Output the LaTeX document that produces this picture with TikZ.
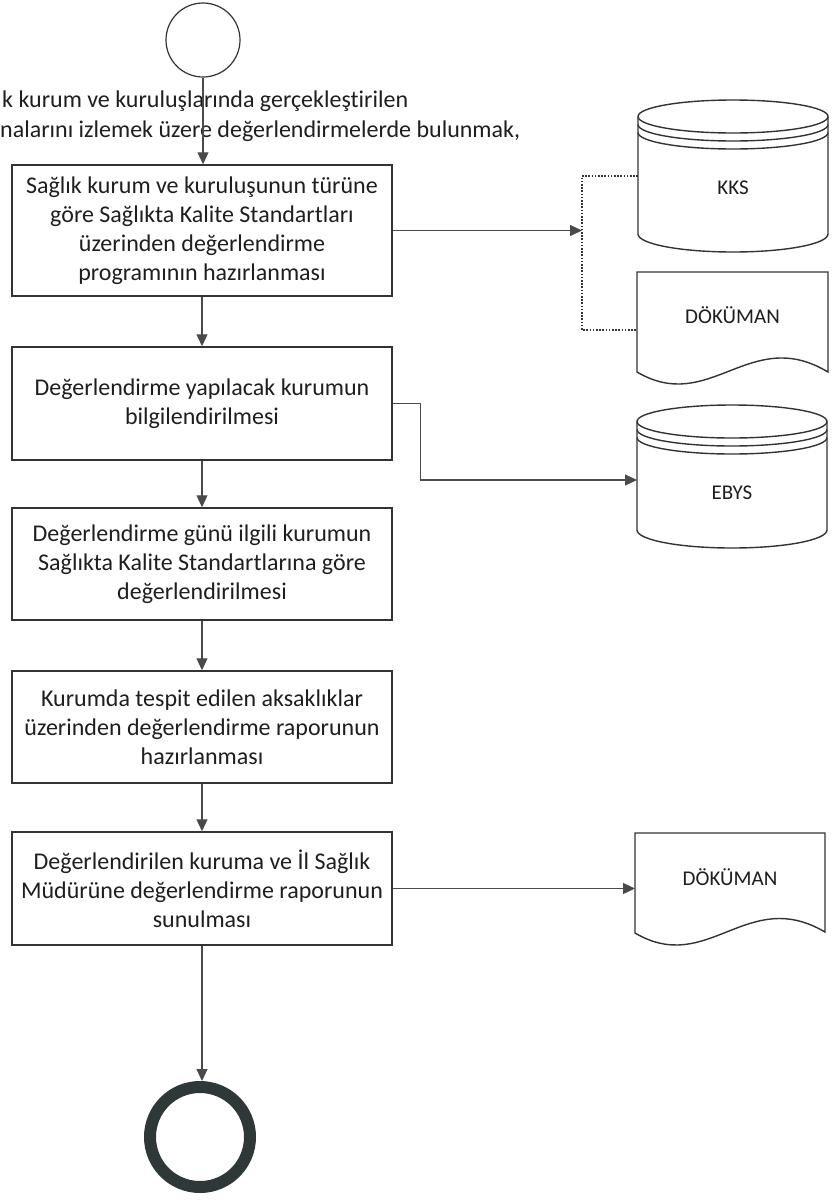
\documentclass[tikz,border=0pt]{standalone}
\usepackage{fontspec}
\setmainfont{Carlito}[Ligatures=NoCommon]
\usetikzlibrary{arrows.meta}
\definecolor{ln}{HTML}{333333}
\definecolor{cn}{HTML}{4A4A4A}
\definecolor{tx}{HTML}{1E1E1E}
\definecolor{ring}{HTML}{2E3838}
\begin{document}
\begin{tikzpicture}[x=1pt,y=-1pt,
  box/.style={draw=ln,line width=1.5pt,minimum width=380pt,align=center,
    font=\fontsize{24}{29}\selectfont,text=tx,inner sep=0pt},
  conn/.style={draw=cn,line width=1.2pt},
  arr/.style={conn,-{Triangle[length=12pt,width=11pt]}},
  dotc/.style={draw=ln,line width=1.6pt,dash pattern=on 1.6pt off 1.6pt},
  shp/.style={draw=ln,line width=1.4pt},
  area/.style={inner sep=0pt,outer sep=0pt},
  lbl/.style={font=\fontsize{21}{25}\selectfont,text=tx},
  toptext/.style={anchor=base west,inner sep=0pt,font=\fontsize{24}{29}\selectfont,text=tx}]
\useasboundingbox (0,0) rectangle (834,1200);

% top text
\node[toptext] (t1) at (2,107) {k kurum ve kuruluşlarında gerçekleştirilen};
\node[toptext] (t2) at (0,137) {nalarını izlemek üzere değerlendirmelerde bulunmak,};

% start / end
\node[circle,draw=ln,line width=1.2pt,minimum size=74pt,inner sep=0pt] (start) at (203,40) {};
\node[circle,draw=ring,line width=12pt,minimum size=100pt,inner sep=0pt] (end) at (200,1137) {};

% process boxes
\node[box,minimum height=131pt] (b1) at (202,230.5) {Sağlık kurum ve kuruluşunun türüne\\göre Sağlıkta Kalite Standartları\\üzerinden değerlendirme\\programının hazırlanması};
\node[box,minimum height=113pt] (b2) at (202,403.5) {Değerlendirme yapılacak kurumun\\bilgilendirilmesi};
\node[box,minimum height=112pt] (b3) at (202,564) {Değerlendirme günü ilgili kurumun\\Sağlıkta Kalite Standartlarına göre\\değerlendirilmesi};
\node[box,minimum height=112pt] (b4) at (202,727) {Kurumda tespit edilen aksaklıklar\\üzerinden değerlendirme raporunun\\hazırlanması};
\node[box,minimum height=113pt] (b5) at (202,888.5) {Değerlendirilen kuruma ve İl Sağlık\\Müdürüne değerlendirme raporunun\\sunulması};

% KKS cylinder
\draw[shp,fill=white] (638,116.5) -- (638,234) arc[start angle=180,end angle=0,x radius=95,y radius=18] -- (828,116.5);
\draw[shp] (733,116.5) ellipse[x radius=95,y radius=16.5];
\draw[shp] (638,124.5) arc[start angle=180,end angle=0,x radius=95,y radius=16.5];
\draw[shp] (638,132.5) arc[start angle=180,end angle=0,x radius=95,y radius=16.5];
\node[area,minimum width=190pt,minimum height=152pt] (kks) at (733,176) {};
\node[lbl] (kksl) at (733,188) {KKS};

% DOKUMAN 1
\draw[shp,fill=white] (637,372) -- (637,272) -- (828,272) -- (828,372) .. controls (750,325) and (710,415) .. (637,372) -- cycle;
\node[area,minimum width=191pt,minimum height=116pt] (doc1) at (732.5,330) {};
\node[lbl] (doc1l) at (732.5,315) {DÖKÜMAN};

% EBYS cylinder
\draw[shp,fill=white] (637,421.5) -- (637,530) arc[start angle=180,end angle=0,x radius=95,y radius=18] -- (827,421.5);
\draw[shp] (732,421.5) ellipse[x radius=95,y radius=16.5];
\draw[shp] (637,429.5) arc[start angle=180,end angle=0,x radius=95,y radius=16.5];
\draw[shp] (637,437.5) arc[start angle=180,end angle=0,x radius=95,y radius=16.5];
\node[area,minimum width=190pt,minimum height=150pt] (ebys) at (732,480) {};
\node[lbl] (ebysl) at (732,493) {EBYS};

% DOKUMAN 2
\draw[shp,fill=white] (635,933) -- (635,833) -- (825,833) -- (825,932) .. controls (747,886) and (708,976) .. (635,933) -- cycle;
\node[area,minimum width=190pt,minimum height=112pt] (doc2) at (730,889) {};
\node[lbl] (doc2l) at (730,877) {DÖKÜMAN};

% connectors
\draw[arr] (start.south) -- (start.south |- b1.north);
\draw[arr] (b1.south) -- (b2.north);
\draw[arr] (b2.south) -- (b3.north);
\draw[arr] (b3.south) -- (b4.north);
\draw[arr] (b4.south) -- (b5.north);
\draw[arr] (b5.south) -- (b5.south |- end.north);

\coordinate (j1) at (582,232);
\draw[dotc] (kks.west) -- (kks.west -| j1) |- (doc1.west);
\draw[arr] (b1.east) -- (b1.east -| j1);
\draw[arr] (b2.east) -- ++(28,0) |- (ebys.west);
\draw[arr] (b5.east) -- (b5.east -| doc2.west);
\end{tikzpicture}
\end{document}
